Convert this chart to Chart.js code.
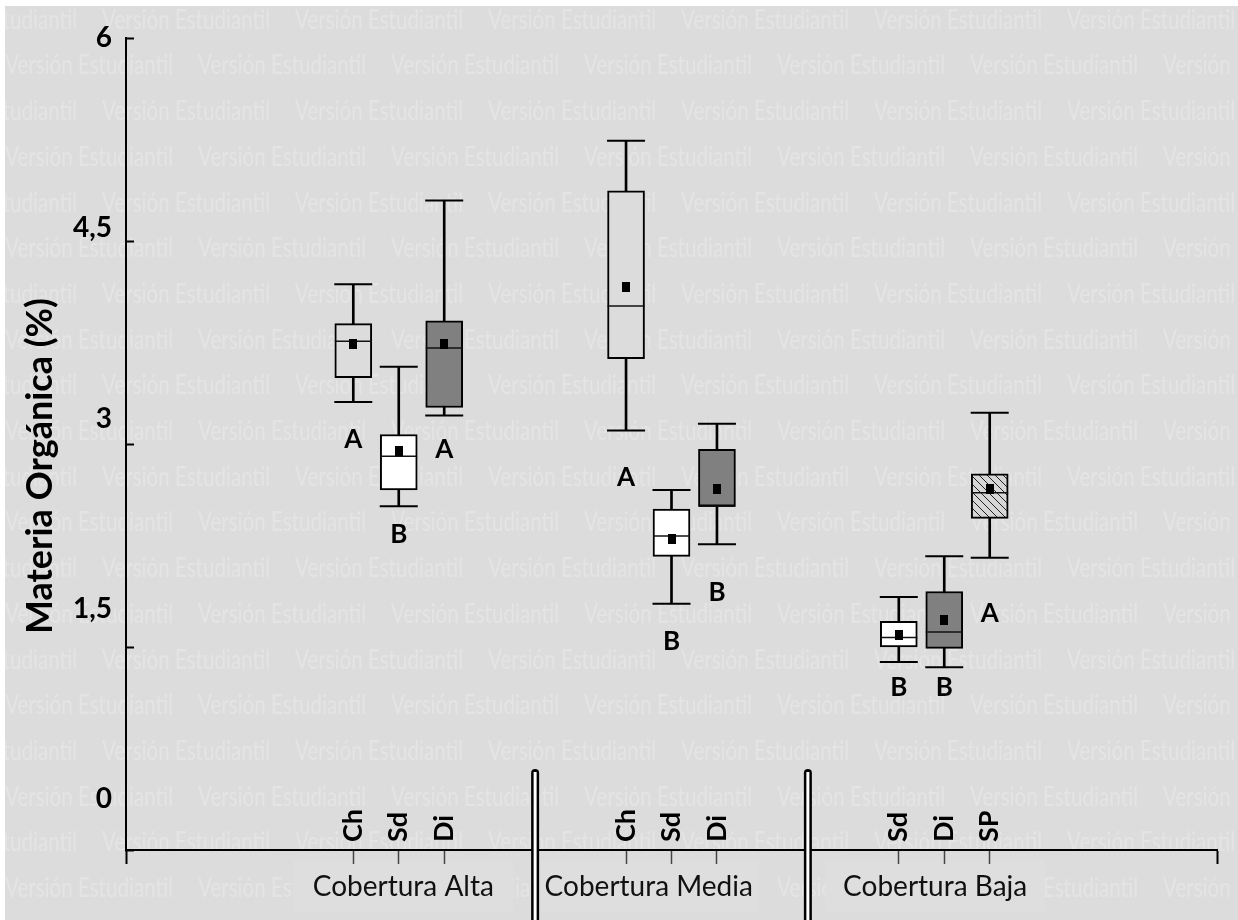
<!DOCTYPE html>
<html>
<head>
<meta charset="utf-8">
<script src="https://cdn.jsdelivr.net/npm/chart.js@4.4.0/dist/chart.umd.min.js"></script>
<style>
  html, body { margin: 0; padding: 0; background: #fff; }
  canvas { display: block; }
</style>
</head>
<body>
<canvas id="grafico" width="1238" height="920"></canvas>
<script>
// Datos (materia orgánica, %)
var tratamientos = ['Ch', 'Sd', 'Di', 'Ch', 'Sd', 'Di', 'Sd', 'Di', 'SP'];
var grupos = ['Cobertura Alta', 'Cobertura Media', 'Cobertura Baja'];
var posiciones = [5, 6, 7, 11, 12, 13, 17, 18, 19];
var minimos = [3.31, 2.54, 3.21, 3.10, 1.82, 2.26, 1.39, 1.35, 2.16];
var q1 = [3.49, 2.66, 3.27, 3.63, 2.17, 2.54, 1.50, 1.49, 2.45];
var medianas = [3.76, 2.91, 3.71, 4.02, 2.32, 2.54, 1.57, 1.61, 2.64];
var q3 = [3.89, 3.07, 3.91, 4.87, 2.52, 2.96, 1.69, 1.91, 2.78];
var maximos = [4.18, 3.57, 4.80, 5.24, 2.66, 3.15, 1.87, 2.17, 3.23];
var medias = [3.74, 2.95, 3.74, 4.16, 2.30, 2.67, 1.59, 1.70, 2.67];
var letras = ['A', 'B', 'A', 'A', 'B', 'B', 'B', 'B', 'A'];
var alturaLetra = [3.03, 2.33, 2.96, 2.75, 1.54, 1.90, 1.20, 1.20, 1.75];
var ticksY = [0, 1.5, 3, 4.5, 6];

var FONDO = '#dcdcdc';

// trama rayada para SP
var trama = document.createElement('canvas');
trama.width = 8; trama.height = 8;
var tc = trama.getContext('2d');
tc.fillStyle = '#d6d6d6';
tc.fillRect(0, 0, 8, 8);
tc.strokeStyle = '#222';
tc.lineWidth = 1;
tc.beginPath();
tc.moveTo(-1, -1); tc.lineTo(9, 9);
tc.stroke();
var rayado = tc.createPattern(trama, 'repeat');

function relleno(t) {
  if (t === 'Sd') return '#ffffff';
  if (t === 'Di') return '#808080';
  if (t === 'SP') return rayado;
  return FONDO;
}

// marcador de la media
var cuadro = document.createElement('canvas');
cuadro.width = 8; cuadro.height = 10;
var cc = cuadro.getContext('2d');
cc.fillStyle = '#000';
cc.fillRect(0, 0, 8, 10);

var ctx = document.getElementById('grafico').getContext('2d');

var fondoPlugin = {
  id: 'fondo',
  beforeDraw: function(chart) {
    var c = chart.ctx;
    var x = chart.scales.x;
    c.save();
    c.fillStyle = FONDO;
    c.fillRect(5, 6, 1238, 920);
    c.beginPath();
    c.rect(5, 6, 1238, 920);
    c.clip();
    // marca de agua
    var texto = 'Versión Estudiantil';
    c.font = '27px Lato';
    var esc = 168 / c.measureText(texto).width;
    c.fillStyle = '#e4e4e4';
    c.textBaseline = 'middle';
    for (var k = 0; k < 21; k++) {
      var yy = 20 + 45.7 * k;
      var x0 = (k % 2 === 0) ? -91 : 5;
      for (var xx = x0; xx < 1238; xx += 193) {
        c.save();
        c.translate(xx, yy);
        c.scale(esc, 1);
        c.fillText(texto, 0, 0);
        c.restore();
      }
    }
    // recuadros de los rótulos de grupo
    c.fillStyle = '#dedede';
    [6.1, 11.5, 17.8].forEach(function(v) {
      var px = x.getPixelForValue(v);
      c.fillRect(px - 110, 860, 220, 52);
    });
    c.restore();
  },
  afterDraw: function(chart) {
    var c = chart.ctx;
    var x = chart.scales.x;
    var y = chart.scales.y;
    c.save();
    // separadores dobles
    [9, 15].forEach(function(v) {
      var px = x.getPixelForValue(v);
      c.fillStyle = '#000';
      c.beginPath();
      c.roundRect(px - 4, 769, 8, 160, [4, 4, 0, 0]);
      c.fill();
      c.fillStyle = '#fff';
      c.fillRect(px - 1.5, 772, 3, 160);
    });
    // rótulos de tratamiento (verticales)
    c.fillStyle = '#000';
    c.font = 'bold 27px Lato';
    c.textBaseline = 'middle';
    c.textAlign = 'left';
    tratamientos.forEach(function(t, i) {
      c.save();
      c.translate(x.getPixelForValue(posiciones[i]), 842);
      c.rotate(-Math.PI / 2);
      c.fillText(t, 0, 0);
      c.restore();
    });
    // letras de significancia
    c.font = 'bold 26px Lato';
    c.textAlign = 'center';
    letras.forEach(function(l, i) {
      c.fillText(l, x.getPixelForValue(posiciones[i]), y.getPixelForValue(alturaLetra[i]));
    });
    // rótulos de grupo
    c.font = '28px Lato';
    c.fillStyle = '#111';
    [6.1, 11.5, 17.8].forEach(function(v, i) {
      c.fillText(grupos[i], x.getPixelForValue(v), 887);
    });
    // título del eje y
    c.font = 'bold 36px Lato';
    c.fillStyle = '#000';
    c.translate(40, 466);
    c.rotate(-Math.PI / 2);
    c.fillText('Materia Orgánica (%)', 0, 0);
    c.restore();
  }
};

var grafico = new Chart(ctx, {
  type: 'bar',
  data: {
    datasets: [{
      type: 'scatter',
      label: 'Media',
      data: posiciones.map(function(p, i) { return { x: p, y: medias[i] }; }),
      pointStyle: cuadro,
      order: 1
    }, {
      type: 'scatter',
      label: 'Mediana',
      data: posiciones.map(function(p, i) { return { x: p, y: medianas[i] }; }),
      pointStyle: 'line',
      pointRadius: 18.5,
      pointBorderWidth: 1.5,
      pointBorderColor: '#111',
      order: 2
    }, {
      type: 'scatter',
      label: 'Extremos',
      data: posiciones.map(function(p, i) { return { x: p, y: minimos[i] }; })
        .concat(posiciones.map(function(p, i) { return { x: p, y: maximos[i] }; })),
      pointStyle: 'line',
      pointRadius: 19,
      pointBorderWidth: 2,
      pointBorderColor: '#000',
      order: 3
    }, {
      type: 'bar',
      label: 'Caja',
      data: posiciones.map(function(p, i) { return { x: p, y: [q1[i], q3[i]] }; }),
      backgroundColor: tratamientos.map(relleno),
      borderColor: '#000',
      borderWidth: 2,
      borderSkipped: false,
      barThickness: 37,
      grouped: false,
      order: 4
    }, {
      type: 'bar',
      label: 'Bigote',
      data: posiciones.map(function(p, i) { return { x: p, y: [minimos[i], maximos[i]] }; }),
      backgroundColor: '#000',
      borderWidth: 0,
      barThickness: 2,
      grouped: false,
      order: 5
    }]
  },
  options: {
    responsive: false,
    animation: false,
    events: [],
    layout: { padding: { top: 38, right: 20, left: 0, bottom: 0 } },
    plugins: {
      legend: { display: false },
      tooltip: { enabled: false }
    },
    scales: {
      x: {
        type: 'linear',
        min: 0,
        max: 24,
        offset: false,
        ticks: { display: false },
        afterBuildTicks: function(s) {
          s.ticks = [0].concat(posiciones, [24]).map(function(v) { return { value: v }; });
        },
        afterFit: function(s) { s.height = 70; },
        grid: {
          offset: false,
          drawOnChartArea: false,
          tickLength: 14,
          tickWidth: function(c) { return (c.tick && (c.tick.value === 0 || c.tick.value === 24)) ? 2 : 1.5; },
          tickColor: function(c) { return (c.tick && (c.tick.value === 0 || c.tick.value === 24)) ? '#000' : '#444'; }
        },
        border: { color: '#000', width: 2 }
      },
      y: {
        type: 'linear',
        position: 'left',
        min: 0,
        max: 6,
        weight: 0,
        ticks: { display: false },
        afterBuildTicks: function(s) {
          s.ticks = ticksY.map(function(v) { return { value: v }; });
        },
        afterFit: function(s) { s.width = 0; },
        grid: {
          drawOnChartArea: false,
          tickLength: -8,
          tickColor: '#000',
          tickWidth: 2
        },
        border: { color: '#000', width: 2 }
      },
      yEtiq: {
        type: 'linear',
        position: 'left',
        min: -0.4,
        max: 6,
        weight: 1,
        grid: { display: false },
        border: { display: false },
        afterBuildTicks: function(s) {
          s.ticks = ticksY.map(function(v) { return { value: v }; });
        },
        afterFit: function(s) { s.width = 126; },
        ticks: {
          padding: 6,
          color: '#000',
          font: { family: 'Lato', size: 28, weight: 'bold' },
          callback: function(v) { return String(v).replace('.', ','); }
        }
      }
    }
  },
  plugins: [fondoPlugin]
});
</script>
</body>
</html>
